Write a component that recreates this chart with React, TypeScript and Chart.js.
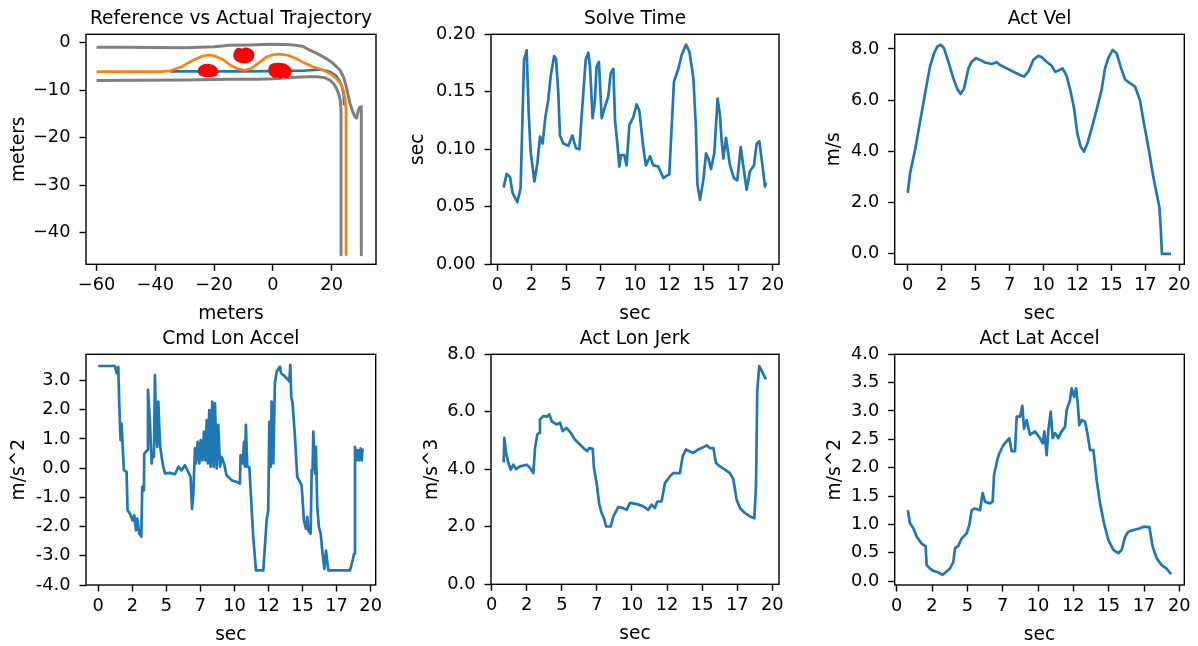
import React, { useEffect, useRef } from 'react';
import { Chart, registerables } from 'chart.js';
Chart.register(...registerables);

const W = 1198;
const H = 646;
const FONT = "'DejaVu Sans', sans-serif";
const BLUE = '#1f77b4';
const ORANGE = '#ff7f0e';
const GRAY = '#808080';
const RED = '#ff0000';

// ---------- Reference vs Actual Trajectory ----------
const upperX = [-60, -50, -40, -30, -20, -14.7, -8, -3, 0, 4, 7, 10, 12.5, 15, 18.2, 20.5, 22.8, 24, 25, 26.2, 27.2, 27.9, 28.5, 29, 29.6, 30.1, 30.1];
const upperY = [-1.0, -1.0, -1.05, -1.1, -0.9, -0.6, -0.55, -0.45, -0.4, -0.45, -0.55, -0.8, -1.6, -2.3, -3.4, -4.4, -5.8, -7.2, -9.3, -12.7, -14.6, -15.6, -15.9, -14.5, -13.6, -13.5, -44.6];
const lowerX = [-60, -45, -30, -15, -5, 0, 4, 8, 12, 15, 17.5, 19.4, 20.8, 21.6, 22.4, 23, 23.2, 23.2];
const lowerY = [-8.0, -7.95, -7.9, -7.75, -7.75, -7.65, -7.5, -7.3, -7.2, -7.2, -7.4, -7.9, -8.8, -9.6, -10.8, -12.3, -14.5, -44.6];
const refX = [-60, -38, -35, -31, -27, -24, -22, -20, -17, -14.5, -12, -9.5, -7.5, -5, -2, 0, 2.3, 5, 8, 11, 14, 17, 19.4, 21.5, 23, 24, 24.6, 24.9, 24.9];
const refY = [-6.15, -6.15, -5.95, -5.1, -3.7, -2.9, -2.65, -2.8, -3.6, -4.8, -5.55, -5.85, -5.5, -4.4, -3.0, -2.6, -2.45, -2.7, -3.4, -4.4, -5.2, -5.8, -6.5, -7.5, -8.6, -10, -12, -14, -44.6];
const actX = [-35, -20, -10, 0, 5, 10, 14, 16, 18, 20, 21.5, 22.8, 23.6, 24.1, 24.3];
const actY = [-6.1, -6.1, -6.1, -6.05, -6.0, -5.95, -5.8, -5.7, -5.9, -6.4, -7.0, -8.2, -9.5, -11, -13.2];
const obs1X = [-25.3, -24.8, -23.8, -22.5, -21.2, -20, -19.2, -18.9, -19.3, -20.5, -22, -23.5, -24.8, -25.3];
const obs1Y = [-6.0, -5.3, -4.9, -4.7, -4.8, -5.1, -5.6, -6.2, -6.8, -7.0, -7.1, -7.0, -6.7, -6.0];
const obs2X = [-13.2, -12.7, -11.8, -10.5, -9.5, -8.2, -7.0, -6.6, -7.2, -8.5, -10, -11.5, -12.8, -13.2];
const obs2Y = [-2.6, -1.8, -1.35, -1.5, -1.3, -1.4, -1.9, -2.7, -3.6, -4.1, -4.2, -4.0, -3.4, -2.6];
const obs3X = [-1.3, -0.9, 0.2, 1.8, 3.5, 5.0, 5.9, 6.0, 5.3, 4.5, 3.5, 2.5, 1.5, 0.5, -0.3, -1.0, -1.3];
const obs3Y = [-5.8, -5.0, -4.6, -4.5, -4.6, -5.0, -5.6, -6.4, -7.1, -7.3, -7.0, -7.5, -7.1, -7.2, -6.9, -6.5, -5.8];

// ---------- Solve Time ----------
const solveT = [0.45, 0.68, 0.92, 1.11, 1.45, 1.69, 1.94, 2.13, 2.28, 2.42, 2.69, 2.91, 3.1, 3.29, 3.49, 3.7, 3.87, 4.12, 4.26, 4.43, 4.55, 4.79, 5.16, 5.45, 5.71, 5.96, 6.13, 6.42, 6.61, 6.73, 6.92, 7.09, 7.21, 7.38, 7.58, 7.82, 8.06, 8.23, 8.43, 8.55, 8.72, 8.86, 8.98, 9.22, 9.39, 9.59, 9.88, 10.12, 10.31, 10.6, 10.79, 11.09, 11.33, 11.69, 12.06, 12.3, 12.49, 12.83, 13.15, 13.39, 13.71, 13.95, 14.24, 14.43, 14.53, 14.72, 14.96, 15.16, 15.33, 15.52, 15.76, 16.0, 16.17, 16.29, 16.42, 16.61, 16.9, 17.19, 17.43, 17.68, 17.87, 18.11, 18.35, 18.64, 18.84, 19.03, 19.27, 19.44, 19.52];
const solveV = [0.0667, 0.0786, 0.076, 0.062, 0.054, 0.066, 0.178, 0.186, 0.131, 0.098, 0.072, 0.088, 0.111, 0.105, 0.128, 0.143, 0.163, 0.181, 0.179, 0.149, 0.112, 0.105, 0.103, 0.112, 0.101, 0.1, 0.13, 0.178, 0.184, 0.172, 0.127, 0.143, 0.172, 0.176, 0.127, 0.137, 0.146, 0.166, 0.17, 0.125, 0.105, 0.085, 0.095, 0.095, 0.086, 0.121, 0.128, 0.139, 0.134, 0.102, 0.086, 0.094, 0.086, 0.085, 0.075, 0.077, 0.078, 0.159, 0.17, 0.182, 0.191, 0.185, 0.162, 0.117, 0.07, 0.056, 0.073, 0.0965, 0.092, 0.083, 0.0965, 0.144, 0.13, 0.108, 0.092, 0.11, 0.086, 0.075, 0.073, 0.102, 0.085, 0.065, 0.081, 0.086, 0.105, 0.107, 0.085, 0.0675, 0.071];

// ---------- Act Vel ----------
const velT = [0, 0.17, 0.54, 0.91, 1.28, 1.64, 1.94, 2.18, 2.43, 2.67, 2.99, 3.36, 3.66, 3.9, 4.15, 4.47, 4.71, 5.03, 5.33, 5.69, 6.18, 6.55, 6.8, 7.29, 7.78, 8.27, 8.57, 8.88, 9.25, 9.62, 9.87, 10.23, 10.6, 10.85, 11.09, 11.41, 11.71, 12.0, 12.25, 12.49, 12.74, 12.98, 13.23, 13.55, 13.91, 14.28, 14.53, 14.77, 15.09, 15.39, 15.68, 16.0, 16.37, 16.74, 17.1, 17.4, 17.72, 18.04, 18.28, 18.53, 18.63, 18.72, 19.39];
const velV = [2.38, 3.14, 4.05, 5.16, 6.27, 7.31, 7.83, 8.09, 8.16, 8.03, 7.5, 6.85, 6.42, 6.24, 6.46, 7.24, 7.5, 7.64, 7.57, 7.47, 7.41, 7.48, 7.37, 7.24, 7.11, 6.98, 6.92, 7.11, 7.57, 7.73, 7.67, 7.5, 7.34, 7.11, 7.15, 7.24, 6.94, 6.33, 5.68, 4.7, 4.18, 3.99, 4.31, 4.9, 5.62, 6.4, 7.24, 7.64, 7.96, 7.83, 7.31, 6.81, 6.66, 6.53, 6.0, 5.09, 4.18, 3.14, 2.49, 1.84, 1.06, 0, 0];

// ---------- Cmd Lon Accel ----------
const cmdT = [0, 1.22, 1.35, 1.47, 1.54, 1.64, 1.71, 1.88, 2.08, 2.15, 2.33, 2.52, 2.64, 2.77, 2.86, 3.01, 3.16, 3.23, 3.35, 3.38, 3.6, 3.65, 3.79, 3.92, 3.99, 4.09, 4.16, 4.23, 4.33, 4.41, 4.48, 4.55, 4.65, 4.77, 4.9, 5.26, 5.63, 5.88, 6.12, 6.36, 6.61, 6.78, 6.88, 6.98, 7.1, 7.17, 7.3, 7.42, 7.52, 7.64, 7.76, 7.86, 7.96, 8.05, 8.15, 8.25, 8.37, 8.47, 8.57, 8.69, 8.81, 8.94, 9.06, 9.23, 9.42, 9.79, 10.16, 10.4, 10.45, 10.6, 10.7, 10.77, 10.84, 10.94, 11.09, 11.38, 11.58, 12.12, 12.36, 12.48, 12.56, 12.66, 12.73, 12.85, 12.97, 13.1, 13.34, 13.42, 13.59, 13.83, 14.03, 14.1, 14.17, 14.27, 14.44, 14.61, 14.93, 15.1, 15.25, 15.35, 15.42, 15.59, 15.67, 15.74, 15.79, 15.91, 15.98, 16.08, 16.2, 16.33, 16.47, 16.6, 16.72, 16.89, 18.48, 18.68, 18.78, 18.85, 18.97, 19.05, 19.14, 19.26, 19.34, 19.41];
const cmdV = [3.5, 3.5, 3.25, 3.46, 2.22, 0.96, 1.53, -0.07, -0.13, -1.44, -1.56, -1.79, -1.61, -2.13, -1.73, -2.24, -2.34, -0.64, -0.76, 0.5, 0.62, 2.68, 1.65, 0.16, 0.5, 0.39, 3.19, 1.65, 0.73, 2.28, 1.42, 0.73, 0.39, 0.05, -0.18, -0.16, -0.21, 0.05, -0.07, 0.1, -0.13, -0.3, -1.39, -0.87, 0.68, 0.16, 0.9, 0.16, 0.96, 0.27, 1.25, 0.27, 1.65, 0.16, 1.99, 0.05, 2.28, 0.05, 2.22, -0.01, 1.48, 0.05, 0.39, 0.16, -0.24, -0.41, -0.47, -0.53, 0.45, 0.16, 0.9, 0.05, 1.48, 0.05, 0.05, -2.36, -3.5, -3.5, -1.79, -1.44, 1.59, 0.05, 2.28, 0.16, 2.91, 3.31, 3.48, 3.25, 3.19, 3.08, 2.97, 3.54, 2.45, 2.22, 1.08, -0.3, -0.58, -1.79, -2.07, -1.67, -2.13, -2.24, -0.07, -0.01, 1.25, -0.18, 0.73, -1.33, -2.02, -2.24, -2.93, -3.45, -2.82, -3.5, -3.5, -3.16, -2.93, 0.73, 0.27, 0.62, 0.27, 0.68, 0.27, 0.68];

// ---------- Act Lon Jerk ----------
const jerkT = [0.85, 0.9, 1.02, 1.19, 1.35, 1.54, 1.73, 2.02, 2.49, 2.73, 2.97, 3.09, 3.25, 3.4, 3.44, 3.68, 3.92, 4.11, 4.28, 4.63, 4.87, 5.06, 5.34, 5.63, 5.94, 6.29, 6.65, 6.82, 6.94, 7.2, 7.29, 7.48, 7.67, 7.84, 8.0, 8.15, 8.48, 8.67, 9.03, 9.38, 9.62, 9.86, 10.33, 10.81, 11.16, 11.4, 11.64, 11.8, 12.11, 12.35, 12.71, 12.95, 13.18, 13.42, 13.61, 13.85, 14.09, 14.37, 14.73, 15.08, 15.32, 15.56, 15.8, 15.99, 16.27, 16.63, 16.98, 17.22, 17.46, 17.7, 18.05, 18.41, 18.72, 18.84, 18.93, 19.07, 19.31, 19.55];
const jerkV = [4.24, 5.09, 4.57, 4.22, 3.99, 4.16, 4.01, 4.1, 4.16, 4.05, 3.87, 4.74, 5.21, 5.27, 5.73, 5.85, 5.83, 5.91, 5.67, 5.56, 5.62, 5.33, 5.44, 5.27, 5.03, 4.86, 4.69, 4.63, 4.74, 4.71, 4.05, 3.52, 2.77, 2.48, 2.3, 2.01, 2.01, 2.36, 2.69, 2.65, 2.59, 2.83, 2.79, 2.71, 2.59, 2.77, 2.65, 2.88, 2.88, 3.52, 3.76, 3.87, 3.87, 3.87, 4.45, 4.69, 4.63, 4.57, 4.69, 4.77, 4.83, 4.74, 4.74, 4.22, 4.1, 3.99, 3.87, 3.66, 2.94, 2.65, 2.48, 2.36, 2.3, 3.4, 6.72, 7.59, 7.36, 7.13];

// ---------- Act Lat Accel ----------
const latT = [0.79, 0.94, 1.18, 1.42, 1.77, 2.05, 2.12, 2.36, 2.59, 2.95, 3.25, 3.49, 3.77, 4.01, 4.13, 4.36, 4.6, 4.95, 5.14, 5.31, 5.54, 5.9, 6.08, 6.25, 6.6, 6.79, 6.89, 7.12, 7.26, 7.55, 7.97, 8.14, 8.37, 8.49, 8.73, 8.89, 9.01, 9.2, 9.43, 9.79, 10.14, 10.33, 10.45, 10.61, 10.73, 10.9, 11.04, 11.2, 11.44, 11.67, 11.91, 12.03, 12.26, 12.38, 12.55, 12.69, 12.81, 12.92, 13.09, 13.33, 13.49, 13.68, 13.92, 14.15, 14.39, 14.67, 14.98, 15.33, 15.68, 15.92, 16.16, 16.39, 16.75, 17.22, 17.45, 17.88, 18.11, 18.4, 18.75, 19.1, 19.42];
const latV = [1.25, 1.02, 0.93, 0.78, 0.66, 0.61, 0.28, 0.22, 0.18, 0.15, 0.11, 0.16, 0.22, 0.34, 0.58, 0.62, 0.75, 0.84, 0.99, 1.25, 1.28, 1.25, 1.55, 1.4, 1.37, 1.4, 1.87, 2.14, 2.25, 2.4, 2.52, 2.29, 2.29, 2.9, 2.9, 3.09, 2.69, 2.84, 2.58, 2.64, 2.52, 2.43, 2.64, 2.22, 2.66, 2.99, 2.52, 2.61, 2.52, 2.64, 2.72, 3.02, 3.19, 3.4, 3.25, 3.4, 3.14, 2.75, 2.84, 2.81, 2.61, 2.31, 2.31, 1.78, 1.37, 1.02, 0.72, 0.55, 0.49, 0.55, 0.78, 0.87, 0.9, 0.93, 0.96, 0.95, 0.61, 0.4, 0.28, 0.22, 0.12];

// ---------- ticks ----------
const timeTicks = [0, 2.5, 5, 7.5, 10, 12.5, 15, 17.5, 20];
const trajXTicks = [-60, -40, -20, 0, 20];
const trajYTicks = [0, -10, -20, -30, -40];
const solveTicks = [0, 0.05, 0.1, 0.15, 0.2];
const velTicks = [0, 2, 4, 6, 8];
const cmdTicks = [-4, -3, -2, -1, 0, 1, 2, 3];
const jerkTicks = [0, 2, 4, 6, 8];
const latTicks = [0, 0.5, 1, 1.5, 2, 2.5, 3, 3.5, 4];

const pts = (xs: number[], ys: number[]) => xs.map((x, i) => ({ x, y: ys[i] }));
const minusFmt = (v: number) => (v < 0 ? '\u2212' + Math.abs(v) : String(v));
const intFmt = (v: number) => String(Math.trunc(v));

const YW = 80;
const XH = 40;
const LW = 2.7;

function lineDs(data: any[], color: string, order = 1, width = LW) {
  return {
    data,
    borderColor: color,
    backgroundColor: color,
    borderWidth: width,
    pointRadius: 0,
    tension: 0,
    fill: false,
    order,
    borderJoinStyle: 'round',
    borderCapStyle: 'butt',
  };
}

function blobDs(data: any[]) {
  return {
    data,
    borderColor: RED,
    backgroundColor: RED,
    borderWidth: 2,
    pointRadius: 0,
    tension: 0.35,
    fill: 'shape',
    order: 0,
  };
}

type Spec = {
  box: [number, number, number, number];
  xr: [number, number];
  yr: [number, number];
  xt: number[];
  yt: number[];
  xf: (v: number) => string;
  yf: (v: number) => string;
  title: string;
  xlabel: string;
  ylabel: string;
  ylOff: number;
  datasets: any[];
};

const specs: Spec[] = [
  {
    box: [86, 34.3, 376, 264.3],
    xr: [-63.6, 35.1],
    yr: [-46.6, 1.7],
    xt: trajXTicks,
    yt: trajYTicks,
    xf: minusFmt,
    yf: minusFmt,
    title: 'Reference vs Actual Trajectory',
    xlabel: 'meters',
    ylabel: 'meters',
    ylOff: 62.5,
    datasets: [
      lineDs(pts(upperX, upperY), GRAY, 3, 3),
      lineDs(pts(lowerX, lowerY), GRAY, 3, 3),
      lineDs(pts(actX, actY), BLUE, 2),
      lineDs(pts(refX, refY), ORANGE, 1),
      blobDs(pts(obs1X, obs1Y)),
      blobDs(pts(obs2X, obs2Y)),
      blobDs(pts(obs3X, obs3Y)),
    ],
  },
  {
    box: [491, 34.3, 779, 264.3],
    xr: [-0.46, 20.46],
    yr: [0, 0.2],
    xt: timeTicks,
    yt: solveTicks,
    xf: intFmt,
    yf: (v) => v.toFixed(2),
    title: 'Solve Time',
    xlabel: 'sec',
    ylabel: 'sec',
    ylOff: 68,
    datasets: [lineDs(pts(solveT, solveV), BLUE)],
  },
  {
    box: [894.7, 34.3, 1184.3, 264.3],
    xr: [-0.96, 20.37],
    yr: [-0.41, 8.57],
    xt: timeTicks,
    yt: velTicks,
    xf: intFmt,
    yf: (v) => v.toFixed(1),
    title: 'Act Vel',
    xlabel: 'sec',
    ylabel: 'm/s',
    ylOff: 56,
    datasets: [lineDs(pts(velT, velV), BLUE)],
  },
  {
    box: [86, 354.3, 375.7, 585],
    xr: [-0.9, 20.37],
    yr: [-4, 3.9],
    xt: timeTicks,
    yt: cmdTicks,
    xf: intFmt,
    yf: (v) => v.toFixed(1),
    title: 'Cmd Lon Accel',
    xlabel: 'sec',
    ylabel: 'm/s^2',
    ylOff: 62,
    datasets: [lineDs(pts(cmdT, cmdV), BLUE)],
  },
  {
    box: [491, 354.3, 779, 584.3],
    xr: [-0.05, 20.48],
    yr: [0, 8],
    xt: timeTicks,
    yt: jerkTicks,
    xf: intFmt,
    yf: (v) => v.toFixed(1),
    title: 'Act Lon Jerk',
    xlabel: 'sec',
    ylabel: 'm/s^3',
    ylOff: 54,
    datasets: [lineDs(pts(jerkT, jerkV), BLUE)],
  },
  {
    box: [894.7, 354.3, 1184.3, 585],
    xr: [-0.14, 20.35],
    yr: [-0.07, 4],
    xt: timeTicks,
    yt: latTicks,
    xf: intFmt,
    yf: (v) => v.toFixed(1),
    title: 'Act Lat Accel',
    xlabel: 'sec',
    ylabel: 'm/s^2',
    ylOff: 55,
    datasets: [lineDs(pts(latT, latV), BLUE)],
  },
];

const TICK_FONT = { family: FONT, size: 17.8 };
const LABEL_SIZE = 18.6;

function makeConfig(s: Spec): any {
  const [l, t, r, b] = s.box;
  const textPlugin = {
    id: 'mplText',
    afterDatasetsDraw(chart: any) {
      const { ctx, chartArea: ca } = chart;
      ctx.save();
      ctx.strokeStyle = '#000';
      ctx.lineWidth = 1.4;
      ctx.strokeRect(ca.left, ca.top, ca.right - ca.left, ca.bottom - ca.top);
      ctx.restore();
    },
    afterDraw(chart: any) {
      const { ctx, chartArea: ca } = chart;
      ctx.save();
      ctx.fillStyle = '#000';
      ctx.font = `${LABEL_SIZE}px ${FONT}`;
      ctx.textAlign = 'center';
      ctx.textBaseline = 'alphabetic';
      const cx = (ca.left + ca.right) / 2;
      ctx.fillText(s.title, cx, ca.top - 10);
      ctx.fillText(s.xlabel, cx, ca.bottom + 55);
      ctx.translate(ca.left - s.ylOff, (ca.top + ca.bottom) / 2);
      ctx.rotate(-Math.PI / 2);
      ctx.fillText(s.ylabel, 0, 0);
      ctx.restore();
    },
  };
  return {
    type: 'line',
    data: { datasets: s.datasets },
    options: {
      animation: false,
      responsive: false,
      maintainAspectRatio: false,
      parsing: true,
      layout: {
        padding: { left: l - YW, top: t, right: W - r, bottom: H - b - XH },
      },
      plugins: { legend: { display: false }, tooltip: { enabled: false }, title: { display: false } },
      scales: {
        x: {
          type: 'linear',
          min: s.xr[0],
          max: s.xr[1],
          border: { display: false },
          grid: { display: true, drawOnChartArea: false, drawTicks: true, tickLength: 6.5, tickColor: '#000', tickWidth: 1.4 },
          ticks: {
            font: TICK_FONT,
            color: '#000',
            padding: 4,
            maxRotation: 0,
            minRotation: 0,
            autoSkip: false,
            callback: (v: any) => s.xf(Number(v)),
          },
          afterBuildTicks: (sc: any) => {
            sc.ticks = s.xt.map((v) => ({ value: v }));
          },
          afterFit: (sc: any) => {
            sc.height = XH;
            sc.paddingLeft = 0;
            sc.paddingRight = 0;
          },
        },
        y: {
          type: 'linear',
          min: s.yr[0],
          max: s.yr[1],
          border: { display: false },
          grid: { display: true, drawOnChartArea: false, drawTicks: true, tickLength: 6.5, tickColor: '#000', tickWidth: 1.4 },
          ticks: {
            font: TICK_FONT,
            color: '#000',
            padding: 9,
            autoSkip: false,
            callback: (v: any) => s.yf(Number(v)),
          },
          afterBuildTicks: (sc: any) => {
            sc.ticks = s.yt.map((v) => ({ value: v }));
          },
          afterFit: (sc: any) => {
            sc.width = YW;
            sc.paddingTop = 0;
            sc.paddingBottom = 0;
          },
        },
      },
    },
    plugins: [textPlugin],
  };
}

function Panel({ spec }: { spec: Spec }) {
  const ref = useRef<HTMLCanvasElement | null>(null);
  useEffect(() => {
    if (!ref.current) return;
    const chart = new Chart(ref.current, makeConfig(spec));
    return () => chart.destroy();
  }, [spec]);
  return (
    <canvas
      ref={ref}
      width={W}
      height={H}
      style={{ position: 'absolute', left: 0, top: 0, width: W, height: H }}
    />
  );
}

export default function App() {
  return (
    <div style={{ position: 'absolute', left: 0, top: 0, width: W, height: H, background: '#fff', overflow: 'hidden' }}>
      {specs.map((s, i) => (
        <Panel key={i} spec={s} />
      ))}
    </div>
  );
}
